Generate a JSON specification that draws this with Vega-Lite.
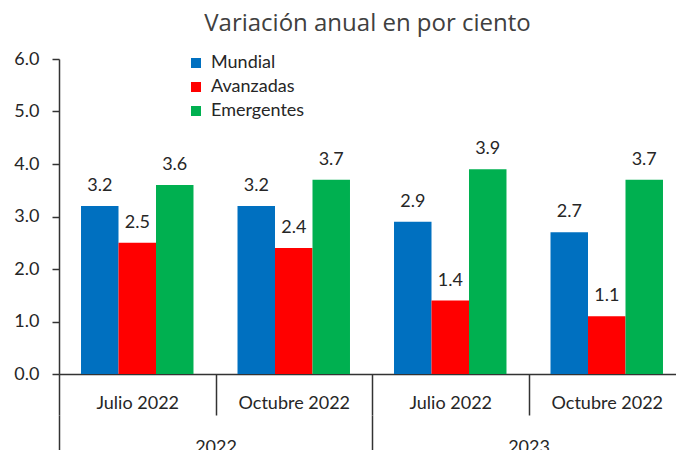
{
  "$schema": "https://vega.github.io/schema/vega-lite/v6.json",
  "autosize": "none",
  "width": 617,
  "height": 315,
  "padding": {"left": 59, "top": 59, "right": 0, "bottom": 76},
  "title": {"text": "Variación anual en por ciento", "font": "Open Sans", "fontSize": 24, "fontWeight": "normal", "color": "#404040", "anchor": "middle", "offset": 14},
  "config": {"view": {"stroke": null}, "font": "Lato"},
  "data": {"values": [
    {"clave": "2022|Julio 2022", "anio": "2022", "serie": "Mundial", "valor": 3.2},
    {"clave": "2022|Julio 2022", "anio": "2022", "serie": "Avanzadas", "valor": 2.5},
    {"clave": "2022|Julio 2022", "anio": "2022", "serie": "Emergentes", "valor": 3.6},
    {"clave": "2022|Octubre 2022", "anio": "2022", "serie": "Mundial", "valor": 3.2},
    {"clave": "2022|Octubre 2022", "anio": "2022", "serie": "Avanzadas", "valor": 2.4},
    {"clave": "2022|Octubre 2022", "anio": "2022", "serie": "Emergentes", "valor": 3.7},
    {"clave": "2023|Julio 2022", "anio": "2023", "serie": "Mundial", "valor": 2.9},
    {"clave": "2023|Julio 2022", "anio": "2023", "serie": "Avanzadas", "valor": 1.4},
    {"clave": "2023|Julio 2022", "anio": "2023", "serie": "Emergentes", "valor": 3.9},
    {"clave": "2023|Octubre 2022", "anio": "2023", "serie": "Mundial", "valor": 2.7},
    {"clave": "2023|Octubre 2022", "anio": "2023", "serie": "Avanzadas", "valor": 1.1},
    {"clave": "2023|Octubre 2022", "anio": "2023", "serie": "Emergentes", "valor": 3.7}
  ]},
  "layer": [
    {
      "layer": [
        {
          "mark": {"type": "bar"},
          "encoding": {
            "x": {"field": "clave", "type": "nominal", "sort": null,
              "scale": {"range": [0, 626], "paddingInner": 0, "paddingOuter": 0},
              "axis": {"title": null, "labelExpr": "split(datum.value, '|')[1]", "labelAngle": 0, "tickBand": "extent", "tickSize": 41, "tickWidth": 1.5, "tickColor": "#333333", "domainColor": "#333333", "domainWidth": 1.5, "labelFont": "Lato", "labelFontSize": 18, "labelColor": "#262626", "labelBaseline": "middle", "labelPadding": -12, "grid": false}},
            "xOffset": {"field": "serie", "type": "nominal", "sort": ["Mundial", "Avanzadas", "Emergentes"], "scale": {"paddingInner": 0, "paddingOuter": 0.587}},
            "y": {"field": "valor", "type": "quantitative", "scale": {"domain": [0, 6], "nice": false},
              "axis": {"title": null, "values": [0, 1, 2, 3, 4, 5, 6], "format": ".1f", "grid": false, "tickSize": 7, "tickWidth": 1.5, "tickColor": "#333333", "domainColor": "#333333", "domainWidth": 1.5, "labelPadding": 13, "labelFont": "Lato", "labelFontSize": 18, "labelColor": "#262626"}},
            "color": {"field": "serie", "type": "nominal", "sort": ["Mundial", "Avanzadas", "Emergentes"],
              "scale": {"domain": ["Mundial", "Avanzadas", "Emergentes"], "range": ["#0070C0", "#FF0000", "#00B050"]},
              "legend": {"title": null, "orient": "none", "legendX": 128, "legendY": -5, "symbolType": "square", "symbolSize": 100, "symbolStrokeWidth": 0, "labelFont": "Lato", "labelFontSize": 18, "labelColor": "#262626", "labelOffset": 6, "rowPadding": 6, "padding": 0}}
          }
        },
        {
          "mark": {"type": "text", "baseline": "alphabetic", "dy": -15, "font": "Lato", "fontSize": 18, "color": "#262626"},
          "encoding": {
            "x": {"field": "clave", "type": "nominal", "sort": null},
            "xOffset": {"field": "serie", "type": "nominal", "sort": ["Mundial", "Avanzadas", "Emergentes"]},
            "y": {"field": "valor", "type": "quantitative"},
            "text": {"field": "valor", "type": "quantitative", "format": ".1f"}
          }
        }
      ]
    },
    {
      "mark": {"type": "text", "opacity": 0},
      "encoding": {
        "x": {"field": "anio", "type": "nominal",
          "scale": {"range": [0, 626], "paddingInner": 0, "paddingOuter": 0},
          "axis": {"title": null, "orient": "bottom", "offset": 41, "domain": false, "labelAngle": 0, "tickBand": "extent", "tickSize": 40, "tickWidth": 1.5, "tickColor": "#333333", "labelFont": "Lato", "labelFontSize": 18, "labelColor": "#262626", "labelBaseline": "top", "labelPadding": -17, "grid": false}},
        "text": {"value": ""}
      }
    }
  ],
  "resolve": {"scale": {"x": "independent"}, "axis": {"x": "independent"}}
}
